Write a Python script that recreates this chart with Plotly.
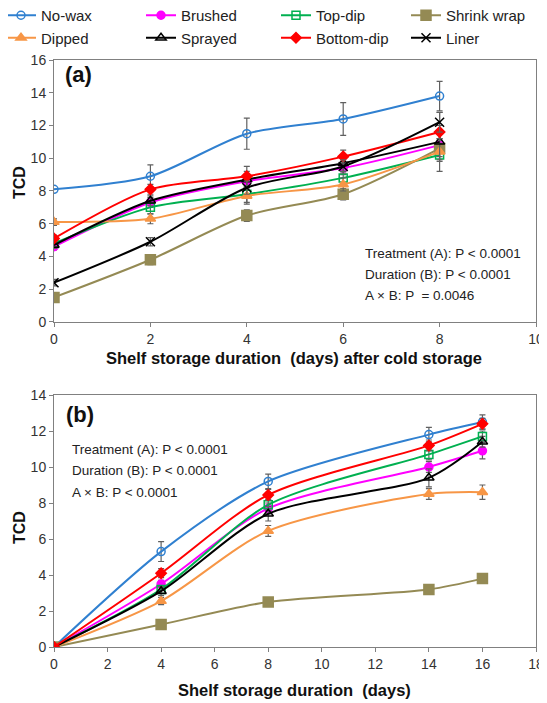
import plotly.graph_objects as go

# ---------------- data ----------------
names = ["No-wax", "Brushed", "Top-dip", "Shrink wrap", "Dipped", "Sprayed", "Bottom-dip", "Liner"]

days_a = [0, 2, 4, 6, 8]
a_nowax = [8.1, 8.9, 11.5, 12.4, 13.8]
a_brushed = [4.6, 7.3, 8.6, 9.4, 10.8]
a_topdip = [4.8, 7.0, 7.8, 8.8, 10.2]
a_shrink = [1.5, 3.8, 6.5, 7.8, 10.6]
a_dipped = [6.1, 6.3, 7.7, 8.4, 10.4]
a_sprayed = [4.7, 7.4, 8.7, 9.7, 11.0]
a_bottom = [5.1, 8.1, 8.9, 10.1, 11.6]
a_liner = [2.4, 4.9, 8.2, 9.5, 12.2]

a_err_nowax = [0.0, 0.7, 0.95, 1.0, 0.9]
a_err_brushed = [0.2, 0.3, 0.4, 0.4, 0.4]
a_err_topdip = [0.2, 0.4, 0.5, 0.4, 0.4]
a_err_shrink = [0.2, 0.3, 0.35, 0.35, 0.5]
a_err_dipped = [0.2, 0.3, 0.5, 0.4, 0.5]
a_err_sprayed = [0.2, 0.3, 0.5, 0.5, 1.8]
a_err_bottom = [0.2, 0.3, 0.6, 0.4, 0.4]
a_err_liner = [0.2, 0.25, 0.4, 0.4, 0.6]

days_b = [0, 4, 8, 14, 16]
b_nowax = [0, 5.3, 9.2, 11.8, 12.5]
b_brushed = [0, 3.5, 7.7, 10.0, 10.9]
b_topdip = [0, 3.2, 7.9, 10.7, 11.7]
b_shrink = [0, 1.25, 2.5, 3.2, 3.8]
b_dipped = [0, 2.55, 6.45, 8.5, 8.6]
b_sprayed = [0, 3.1, 7.4, 9.4, 11.4]
b_bottom = [0, 4.1, 8.45, 11.2, 12.4]

b_err_nowax = [0, 0.55, 0.4, 0.4, 0.4]
b_err_brushed = [0, 0.2, 0.3, 0.3, 0.45]
b_err_topdip = [0, 0.2, 0.3, 0.3, 0.3]
b_err_shrink = [0, 0.1, 0.1, 0.1, 0.1]
b_err_dipped = [0, 0.2, 0.3, 0.3, 0.4]
b_err_sprayed = [0, 0.25, 0.4, 0.5, 0.3]
b_err_bottom = [0, 0.25, 0.3, 0.3, 0.3]

colors = {
    "No-wax": "#3080D0", "Brushed": "#FF00FF", "Top-dip": "#00B050",
    "Shrink wrap": "#948A54", "Dipped": "#F79646", "Sprayed": "#000000",
    "Bottom-dip": "#FF0000", "Liner": "#000000",
}
markers = {
    "No-wax": ("circle-open", 8), "Brushed": ("circle", 8), "Top-dip": ("square-open", 8),
    "Shrink wrap": ("square", 10), "Dipped": ("triangle-up", 9), "Sprayed": ("triangle-up-open", 9),
    "Bottom-dip": ("diamond", 8), "Liner": ("x-thin-open", 9),
}
legend_of = {"No-wax": "legend", "Dipped": "legend", "Brushed": "legend2", "Sprayed": "legend2",
             "Top-dip": "legend3", "Bottom-dip": "legend3", "Shrink wrap": "legend4", "Liner": "legend4"}

series_a = [a_nowax, a_brushed, a_topdip, a_shrink, a_dipped, a_sprayed, a_bottom, a_liner]
errs_a = [a_err_nowax, a_err_brushed, a_err_topdip, a_err_shrink, a_err_dipped, a_err_sprayed, a_err_bottom, a_err_liner]
series_b = [b_nowax, b_brushed, b_topdip, b_shrink, b_dipped, b_sprayed, b_bottom, None]
errs_b = [b_err_nowax, b_err_brushed, b_err_topdip, b_err_shrink, b_err_dipped, b_err_sprayed, b_err_bottom, None]

FONT = "Liberation Sans, Arial, sans-serif"
fig = go.Figure()

for i, n in enumerate(names):
    sym, sz = markers[n]
    c = colors[n]
    fig.add_trace(go.Scatter(
        x=days_a, y=series_a[i], name=n, mode="lines+markers",
        line=dict(color=c, width=2, shape="spline", smoothing=0.8),
        marker=dict(symbol=sym, size=sz, color=c, line=dict(color=c, width=1.5)),
        error_y=dict(type="data", array=errs_a[i], color="#606060", thickness=1.2, width=3),
        xaxis="x", yaxis="y", legendgroup=n, showlegend=True, legend=legend_of[n],
    ))
for i, n in enumerate(names):
    if series_b[i] is None:
        continue
    sym, sz = markers[n]
    c = colors[n]
    fig.add_trace(go.Scatter(
        x=days_b, y=series_b[i], name=n, mode="lines+markers",
        line=dict(color=c, width=2, shape="spline", smoothing=0.8),
        marker=dict(symbol=sym, size=sz, color=c, line=dict(color=c, width=1.5)),
        error_y=dict(type="data", array=errs_b[i], color="#606060", thickness=1.2, width=3),
        xaxis="x2", yaxis="y2", legendgroup=n, showlegend=False,
    ))

axis_common = dict(
    showgrid=False, zeroline=False, showline=True, linecolor="#808080", linewidth=1,
    mirror=True, ticks="outside", ticklen=4, tickcolor="#808080",
    tickfont=dict(family=FONT, size=14, color="#333333"),
)

def leg(xpix):
    return dict(
        orientation="v", x=(xpix - 54) / 482, xanchor="left", y=(647 + 1) / 587, yanchor="top",
        font=dict(family=FONT, size=15, color="#222222"), itemwidth=30,
        tracegroupgap=0, bgcolor="rgba(0,0,0,0)",
    )

# page body has an 8px margin, so the figure is 8px smaller than the window
fig.update_layout(
    width=539, height=695,
    margin=dict(l=46, r=11, t=52, b=56, autoexpand=False),
    paper_bgcolor="white", plot_bgcolor="white",
    font=dict(family=FONT),
    xaxis=dict(domain=[0, 1], range=[0, 10], dtick=2, anchor="y", **axis_common),
    yaxis=dict(domain=[0.5537, 1], range=[0, 16], dtick=2, anchor="x", **axis_common),
    xaxis2=dict(domain=[0, 1], range=[0, 18], dtick=2, anchor="y2", **axis_common),
    yaxis2=dict(domain=[0, 0.4293], range=[0, 14], dtick=2, anchor="x2", **axis_common),
    legend=leg(1), legend2=leg(141), legend3=leg(276), legend4=leg(406),
    showlegend=True,
)

ann = []
ann.append(dict(text="<b>(a)</b>", xref="x", yref="y", x=0.19, y=15.1, showarrow=False,
                xanchor="left", yanchor="middle", font=dict(family=FONT, size=22, color="#111111")))
ann.append(dict(text="<b>(b)</b>", xref="x2", yref="y2", x=0.37, y=12.9, showarrow=False,
                xanchor="left", yanchor="middle", font=dict(family=FONT, size=22, color="#111111")))
for txt, yy in [("Treatment (A): P < 0.0001", 4.2), ("Duration (B): P < 0.0001", 2.9), ("A × B: P  = 0.0046", 1.6)]:
    ann.append(dict(text=txt, xref="x", yref="y", x=6.41, y=yy, showarrow=False, xanchor="left",
                    yanchor="middle", font=dict(family=FONT, size=13.5, color="#222222")))
for txt, yy in [("Treatment (A): P < 0.0001", 11.0), ("Duration (B): P < 0.0001", 9.83), ("A × B: P < 0.0001", 8.6)]:
    ann.append(dict(text=txt, xref="x2", yref="y2", x=0.6, y=yy, showarrow=False, xanchor="left",
                    yanchor="middle", font=dict(family=FONT, size=13.5, color="#222222")))
ann.append(dict(text="<b>Shelf storage duration  (days) after cold storage</b>", xref="paper", yref="paper",
                x=(294 - 54) / 482, y=(647 - 358) / 587, showarrow=False, xanchor="center", yanchor="middle",
                font=dict(family=FONT, size=16.5, color="#111111")))
ann.append(dict(text="<b>Shelf storage duration  (days)</b>", xref="paper", yref="paper",
                x=(294 - 54) / 482, y=-(690 - 647) / 587, showarrow=False,
                xanchor="center", yanchor="middle", font=dict(family=FONT, size=16.5, color="#111111")))
ann.append(dict(text="<b>TCD</b>", xref="paper", yref="paper", x=-(54 - 19) / 482, y=(647 - 183) / 587,
                textangle=-90, showarrow=False, xanchor="center", yanchor="middle",
                font=dict(family=FONT, size=16, color="#111111")))
ann.append(dict(text="<b>TCD</b>", xref="paper", yref="paper", x=-(54 - 19) / 482, y=(647 - 528) / 587,
                textangle=-90, showarrow=False, xanchor="center", yanchor="middle",
                font=dict(family=FONT, size=16, color="#111111")))
fig.update_layout(annotations=ann)

fig.write_html("out.html")
